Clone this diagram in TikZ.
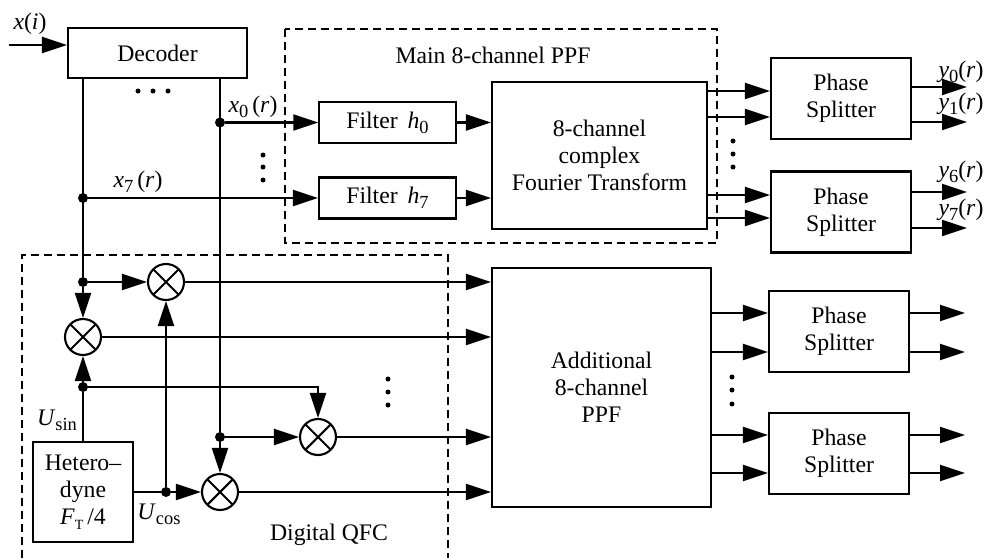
\documentclass[tikz,border=0pt]{standalone}
\usepackage{fontspec}
\setmainfont{Liberation Serif}
\usetikzlibrary{arrows.meta}

\newcommand{\varsub}[2]{\textit{#1}\raisebox{-0.45ex}{\fontsize{10.5}{10.5}\selectfont #2}}

\begin{document}
\begin{tikzpicture}[x=0.02cm, y=-0.02cm,
    every node/.style={font=\fontsize{13.5}{15.5}\selectfont},
    line/.style={line width=1.2pt},
    arr/.style={line width=1.2pt, -{Triangle[length=0.5cm, width=0.32cm]}},
    blockbox/.style={draw, line width=1.2pt, align=center, inner sep=0pt},
    mixer/.style={circle, draw, line width=1.2pt, minimum size=0.72cm, inner sep=0pt,
      path picture={\draw[line width=1.2pt]
        (path picture bounding box.north west) -- (path picture bounding box.south east)
        (path picture bounding box.south west) -- (path picture bounding box.north east);}},
    junction/.style={circle, fill, inner sep=0pt, minimum size=0.2cm},
    frame/.style={draw, line width=0.6pt, dash pattern=on 0.16cm off 0.1cm}]
        \useasboundingbox (0,0) rectangle (987,558);
        % Frames
        \draw[frame] (285,29) rectangle (717,243);
        \draw[frame] (22,558) -- (22,255) -- (448,255) -- (448,558);
        \node (mainlbl) at (493,55) {Main 8-channel PPF};
        \node (qfclbl) at (329,535) {Digital QFC};
        % Blocks
        \node[blockbox, minimum width=3.58cm, minimum height=1cm] (dec) at (157.5,53) {Decoder};
        \node[blockbox, line width=0.8pt, minimum width=2.74cm, minimum height=0.82cm]
          (fh0) at (387.5,122.5) {Filter\, \varsub{h}{0}};
        \node[blockbox, minimum width=2.74cm, minimum height=0.82cm]
          (fh7) at (387.5,198) {Filter\, \varsub{h}{7}};
        \node[blockbox, minimum width=4.3cm, minimum height=2.94cm]
          (fft) at (599.5,155.5) {8-channel\\complex\\Fourier Transform};
        \node[blockbox, minimum width=4.38cm, minimum height=4.78cm]
          (add) at (601.5,387.5) {Additional\\8-channel\\PPF};
        \node[blockbox, minimum width=2.8cm, minimum height=1.62cm] (ps1) at (841,98.5) {Phase\\Splitter};
        \node[blockbox, minimum width=2.8cm, minimum height=1.62cm] (ps2) at (841,212) {Phase\\Splitter};
        \node[blockbox, minimum width=2.8cm, minimum height=1.62cm] (ps3) at (839,331.5) {Phase\\Splitter};
        \node[blockbox, minimum width=2.8cm, minimum height=1.62cm] (ps4) at (839,453.5) {Phase\\Splitter};
        \node[blockbox, minimum width=2cm, minimum height=2cm]
          (het) at (83,492) {Hetero--\\dyne\\\textit{F}\raisebox{-0.4ex}{\fontsize{8}{8}\selectfont T}\,/4};
        % Mixers
        \node[mixer] (m1) at (166,282) {};
        \node[mixer] (m2) at (83,337) {};
        \node[mixer] (m3) at (318,437) {};
        \node[mixer] (m4) at (220,492) {};
        % Junctions
        \node[junction] (j0) at (220,122.5) {};
        \node[junction] (j7) at (83,198) {};
        \node[junction] (jx) at (83,282) {};
        \node[junction] (js) at (83,387) {};
        \node[junction] (jy) at (220,437) {};
        \node[junction] (jc) at (166,492) {};
        \coordinate (in) at (9,45);
        % Input and decoder outputs
        \draw[arr] (in) -- (in -| dec.west);
        \draw[line] (dec.south -| jx) -- (jx);
        \draw[line] (dec.south -| j0) -- (jy);
        \draw[arr] (j0) -- (fh0);
        \draw[arr] (j7) -- (fh7);
        \draw[arr] (fh0) -- (fh0 -| fft.west);
        \draw[arr] (fh7) -- (fh7 -| fft.west);
        % Main PPF outputs
        \draw[arr] (fft.east |- 0,91) -- (ps1.west |- 0,91);
        \draw[arr] (fft.east |- 0,117) -- (ps1.west |- 0,117);
        \draw[arr] (fft.east |- 0,195) -- (ps2.west |- 0,195);
        \draw[arr] (fft.east |- 0,218) -- (ps2.west |- 0,218);
        \draw[arr] (ps1.east |- 0,87) -- ++(55,0);
        \draw[arr] (ps1.east |- 0,122) -- ++(55,0);
        \draw[arr] (ps2.east |- 0,192) -- ++(55,0);
        \draw[arr] (ps2.east |- 0,228) -- ++(55,0);
        % Digital QFC
        \draw[arr] (jx) -- (m2);
        \draw[arr] (jx) -- (m1);
        \draw[line] (het.north) -- (js);
        \draw[arr] (js) -- (m2);
        \draw[arr] (js) -| (m3);
        \draw[arr] (jy) -- (m3);
        \draw[arr] (jy) -- (m4);
        \draw[line] (het.east |- jc) -- (jc);
        \draw[arr] (jc) -- (m4);
        \draw[arr] (jc) -- (m1);
        \draw[arr] (m1) -- (m1 -| add.west);
        \draw[arr] (m2) -- (m2 -| add.west);
        \draw[arr] (m3) -- (m3 -| add.west);
        \draw[arr] (m4) -- (m4 -| add.west);
        % Additional PPF outputs
        \draw[arr] (add.east |- 0,313) -- (ps3.west |- 0,313);
        \draw[arr] (add.east |- 0,352) -- (ps3.west |- 0,352);
        \draw[arr] (add.east |- 0,435) -- (ps4.west |- 0,435);
        \draw[arr] (add.east |- 0,473) -- (ps4.west |- 0,473);
        \draw[arr] (ps3.east |- 0,313) -- ++(55,0);
        \draw[arr] (ps3.east |- 0,352) -- ++(55,0);
        \draw[arr] (ps4.east |- 0,435) -- ++(55,0);
        \draw[arr] (ps4.east |- 0,473) -- ++(55,0);
        % Dots
        \foreach \x in {138,153,168} \fill (\x,91) circle (0.05cm);
        \foreach \y in {155,167,180} \fill (263,\y) circle (0.05cm);
        \foreach \y in {141,154,167} \fill (733,\y) circle (0.05cm);
        \foreach \y in {379,392,405} \fill (388,\y) circle (0.05cm);
        \foreach \y in {377,390,404} \fill (732,\y) circle (0.05cm);
        % Labels
        \node (xi) at (30,24) {\textit{x}(\textit{i})};
        \node (x0) at (253,107) {\varsub{x}{0}\,(\textit{r})};
        \node (x7) at (138,182) {\varsub{x}{7}\,(\textit{r})};
        \node (y0) at (961,72) {\varsub{y}{0}(\textit{r})};
        \node (y1) at (961,104) {\varsub{y}{1}(\textit{r})};
        \node (y6) at (961,172) {\varsub{y}{6}(\textit{r})};
        \node (y7) at (961,210) {\varsub{y}{7}(\textit{r})};
        \node (usin) at (57,420) {\varsub{U}{sin}};
        \node (ucos) at (159,514) {\varsub{U}{cos}};
\end{tikzpicture}
\end{document}
